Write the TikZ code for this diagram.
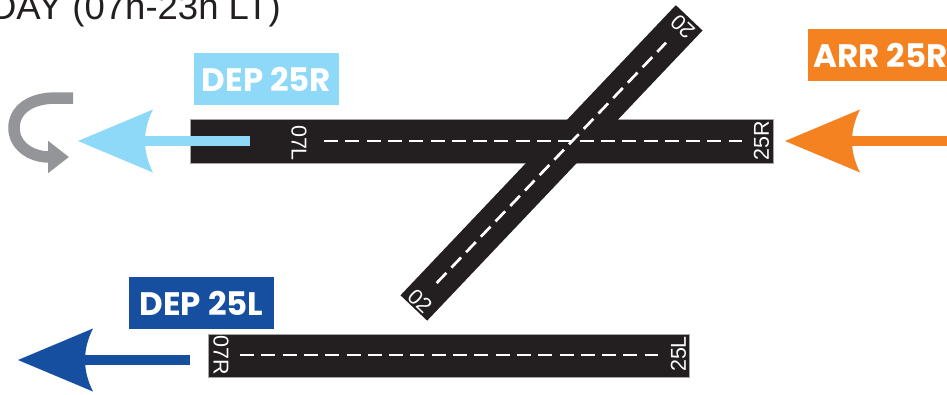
\documentclass[tikz,border=0pt]{standalone}
\usepackage{fontspec}
\setmainfont{Liberation Sans}
\newfontfamily\tagfont{Poppins}
\usetikzlibrary{arrows.meta}

% Arrow head with a curved back
\pgfdeclarearrow{
  name=Swept,
  defaults={length=75pt,width=63pt},
  setup code={
    \pgfarrowssettipend{\pgfarrowlength}
    \pgfarrowssetlineend{.2\pgfarrowlength}
    \pgfarrowssetbackend{0pt}
    \pgfarrowssavethe\pgfarrowlength
    \pgfarrowssavethe\pgfarrowwidth
  },
  drawing code={
    \pgfpathmoveto{\pgfqpoint{\pgfarrowlength}{0pt}}
    \pgfpathlineto{\pgfqpoint{0pt}{.5\pgfarrowwidth}}
    \pgfpathquadraticcurveto{\pgfqpoint{.213\pgfarrowlength}{0pt}}{\pgfqpoint{0pt}{-.5\pgfarrowwidth}}
    \pgfpathclose
    \pgfusepathqfill
  },
}

\definecolor{lightdep}{HTML}{8ED8F8}
\definecolor{darkdep}{HTML}{164FA0}
\definecolor{arrcol}{HTML}{F58220}
\definecolor{tarmac}{HTML}{231F20}
\definecolor{turncol}{HTML}{939598}

\begin{document}
\begin{tikzpicture}[
    x=1pt, y=-1pt,
    runway/.style={rectangle, fill=tarmac, draw=black!35, line width=0.5pt, inner sep=0pt},
    centerline/.style={white, line width=2.7pt, dash pattern=on 14pt off 7.3pt},
    rwynum/.style={white, font=\fontsize{21.5}{21.5}\selectfont, inner sep=0pt},
    tagbox/.style={text=white, inner sep=0pt, minimum height=52pt, minimum width=145pt, font=\tagfont\bfseries\fontsize{32.5}{32.5}\selectfont},
    flow/.style={line width=10.7pt, -{Swept}}
]
\useasboundingbox (0,0) rectangle (947,394);
\clip (0,0) rectangle (947,394);

% --- TITLE ---
\node[anchor=base east, inner sep=0pt, font=\fontsize{36.5}{36.5}\selectfont, text=tarmac] (title) at (281,19) {DAY (07h-23h LT)};

% --- RUNWAYS ---
\node[runway, minimum width=583pt, minimum height=44pt] (rwy-r) at (481.5,141.5) {};
\node[runway, minimum width=481pt, minimum height=43.5pt] (rwy-l) at (449,355.5) {};
\node[runway, draw=none, minimum width=400pt, minimum height=36.8pt, rotate=46.5] (rwy-x) at (551.5,162.9) {};

% --- CENTER LINES ---
\coordinate (line-r1) at (324,141);
\coordinate (line-r2) at (742,141);
\coordinate (line-l1) at (240,355);
\coordinate (line-l2) at (658,355);
\coordinate (line-x1) at (436.7,283);
\coordinate (line-x2) at (666,42.7);
\draw[centerline] (line-r1) -- (line-r2);
\draw[centerline] (line-l1) -- (line-l2);
\draw[centerline] (line-x1) -- (line-x2);

% --- RUNWAY NUMBERS ---
\node[rwynum, rotate=-90] (num-07l) at (299,143) {07L};
\node[rwynum, rotate=90] (num-25r) at (761.5,140.5) {25R};
\node[rwynum, rotate=-90] (num-07r) at (221,355) {07R};
\node[rwynum, rotate=90] (num-25l) at (678.5,354) {25L};
\node[rwynum, rotate=-43.5] (num-02) at (420,301) {02};
\node[rwynum, rotate=136.5] (num-20) at (682.7,26.7) {20};

% --- TAGS ---
\node[tagbox, fill=lightdep] (tag-dep-r) at (266.5,79) {DEP 25R};
\node[tagbox, fill=darkdep] (tag-dep-l) at (201.5,303) {DEP 25L\hspace{4pt}};
\node[tagbox, fill=arrcol] (tag-arr) at (880.5,55) {ARR 25R};

% --- FLOWS ---
\coordinate (dep-r-start) at (250,141);
\coordinate (dep-r-end) at (78,141);
\coordinate (arr-start) at (960,141);
\coordinate (arr-end) at (785,141);
\coordinate (dep-l-start) at (190,360);
\coordinate (dep-l-end) at (18,360);
\draw[flow, lightdep] (dep-r-start) -- (dep-r-end);
\draw[flow, arrcol] (arr-start) -- (arr-end);
\draw[flow, darkdep] (dep-l-start) -- (dep-l-end);

% --- TURN ---
\coordinate (turn-start) at (73,98);
\coordinate (turn-end) at (69,157);
\draw[turncol, line width=11.5pt, -{Triangle[length=21pt,width=31pt]}] (turn-start) -- (56,98)
    .. controls (30,98) and (14,110) .. (14,128)
    .. controls (14,145) and (30,157) .. (turn-end);
\end{tikzpicture}
\end{document}
